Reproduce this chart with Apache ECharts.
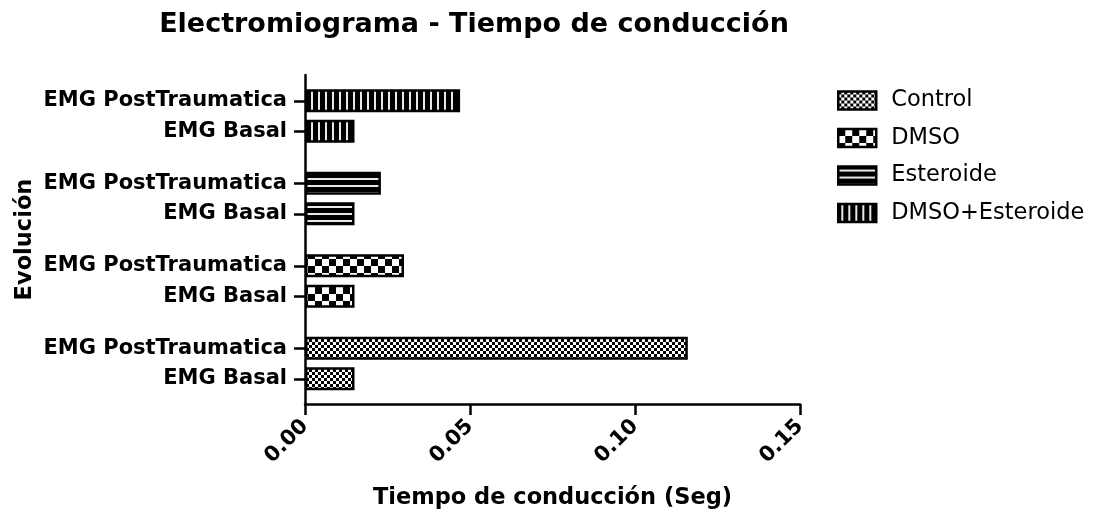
<!DOCTYPE html>
<html>
<head>
<meta charset="utf-8">
<script src="https://cdn.jsdelivr.net/npm/echarts@6/dist/echarts.min.js"></script>
<style>
html,body{margin:0;padding:0;background:#fff;}
#chart{width:1106px;height:515px;}
</style>
</head>
<body>
<div id="chart"></div>
<script>
// ---- data ----
const categories = ['EMG Basal', 'EMG PostTraumatica'];
const groupNames = ['Control', 'DMSO', 'Esteroide', 'DMSO+Esteroide'];
const control = [0.015, 0.116];
const dmso = [0.015, 0.030];
const esteroide = [0.015, 0.023];
const dmsoEsteroide = [0.015, 0.047];
const xTickLabels = ['0.00', '0.05', '0.10', '0.15'];
const xMin = 0, xMax = 0.15, xStep = 0.05;
const titleText = 'Electromiograma - Tiempo de conducción';
const xTitle = 'Tiempo de conducción (Seg)';
const yTitle = 'Evolución';

// ---- patterns ----
function makeCanvas(w, h, draw) {
  const c = document.createElement('canvas');
  c.width = w; c.height = h;
  const ctx = c.getContext('2d');
  draw(ctx);
  return c;
}
const patControl = makeCanvas(6, 6, ctx => {
  ctx.fillStyle = '#fff'; ctx.fillRect(0, 0, 6, 6);
  ctx.fillStyle = '#000'; ctx.fillRect(0, 0, 3, 3); ctx.fillRect(3, 3, 3, 3);
});
const patDmso = makeCanvas(14, 14, ctx => {
  ctx.fillStyle = '#fff'; ctx.fillRect(0, 0, 14, 14);
  ctx.fillStyle = '#000'; ctx.fillRect(0, 0, 7, 7); ctx.fillRect(7, 7, 7, 7);
});
const patEster = makeCanvas(7, 7, ctx => {
  ctx.fillStyle = '#000'; ctx.fillRect(0, 0, 7, 7);
  ctx.fillStyle = '#e8e8e8'; ctx.fillRect(0, 3, 7, 2);
});
const patBoth = makeCanvas(7, 7, ctx => {
  ctx.fillStyle = '#000'; ctx.fillRect(0, 0, 7, 7);
  ctx.fillStyle = '#e8e8e8'; ctx.fillRect(3, 0, 2, 7);
});
const patterns = [patControl, patDmso, patEster, patBoth];
const groupData = [control, dmso, esteroide, dmsoEsteroide];

// ---- layout ----
const FONT = 'DejaVu Sans';
const plotLeft = 305, plotWidth = 495, plotTop = 75, plotHeight = 330;
const subTops = [333, 250.5, 168, 85.5];
const subHeight = 61;

const grids = [{left: plotLeft, width: plotWidth, top: plotTop, height: plotHeight}];
const xAxes = [{
  type: 'value', gridIndex: 0, min: xMin, max: xMax, interval: xStep,
  axisLine: {show: true, lineStyle: {color: '#000', width: 2.5}},
  axisTick: {show: true, length: 11, lineStyle: {color: '#000', width: 2.5}},
  splitLine: {show: false},
  axisLabel: {
    rotate: 45, margin: 19, color: '#000', fontFamily: FONT, fontWeight: 'bold', fontSize: 21,
    formatter: v => xTickLabels[Math.round((v - xMin) / xStep)]
  },
  name: xTitle, nameLocation: 'middle', nameGap: 83,
  nameTextStyle: {color: '#000', fontFamily: FONT, fontWeight: 'bold', fontSize: 22.5}
}];
const yAxes = [{
  type: 'value', gridIndex: 0, min: 0, max: 1,
  axisLine: {show: true, lineStyle: {color: '#000', width: 2.5}},
  axisTick: {show: false}, axisLabel: {show: false}, splitLine: {show: false},
  name: yTitle, nameLocation: 'middle', nameRotate: 90, nameGap: 268,
  nameTextStyle: {color: '#000', fontFamily: FONT, fontWeight: 'bold', fontSize: 22.5}
}];
const series = [];
groupNames.forEach((name, i) => {
  grids.push({left: plotLeft, width: plotWidth, top: subTops[i], height: subHeight});
  xAxes.push({type: 'value', gridIndex: i + 1, min: xMin, max: xMax, show: false});
  yAxes.push({
    type: 'category', gridIndex: i + 1, data: categories,
    axisLine: {show: false},
    axisTick: {show: true, alignWithLabel: true, length: 11, lineStyle: {color: '#000', width: 2.5}},
    axisLabel: {margin: 18, color: '#000', fontFamily: FONT, fontWeight: 'bold', fontSize: 21},
    splitLine: {show: false}
  });
  series.push({
    name: name, type: 'bar', xAxisIndex: i + 1, yAxisIndex: i + 1,
    data: groupData[i], barWidth: 23,
    itemStyle: {color: {image: patterns[i], repeat: 'repeat'}, borderColor: '#000', borderWidth: 2.5},
    emphasis: {disabled: true}, animation: false
  });
});

const chart = echarts.init(document.getElementById('chart'), null, {renderer: 'canvas'});
chart.setOption({
  animation: false,
  backgroundColor: '#fff',
  title: {
    text: titleText, left: 469, top: 6, textAlign: 'center',
    textStyle: {color: '#000', fontFamily: FONT, fontWeight: 'bold', fontSize: 27}
  },
  legend: {
    orient: 'vertical', left: 832, top: 84, itemWidth: 38, itemHeight: 18, itemGap: 14.5,
    icon: 'rect', data: groupNames,
    itemStyle: {borderColor: '#000', borderWidth: 2.5},
    textStyle: {color: '#000', fontFamily: FONT, fontSize: 22.5, padding: [0, 0, 0, 10]}
  },
  grid: grids, xAxis: xAxes, yAxis: yAxes, series: series
});
</script>
</body>
</html>
